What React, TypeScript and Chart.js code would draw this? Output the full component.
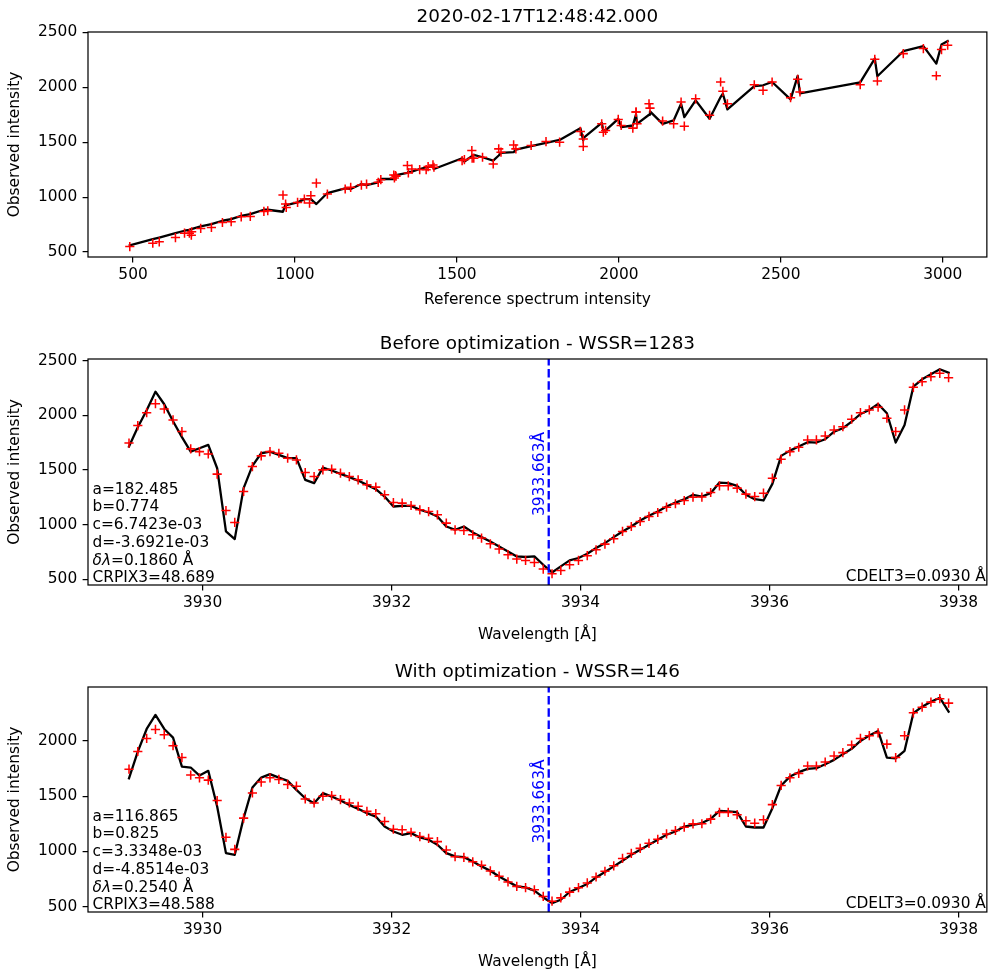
import React, { useEffect, useRef } from "react";
import { Chart, registerables } from "chart.js";

Chart.register(...registerables);

// ---------------- data ----------------
const WAVELENGTH = [
  3929.221, 3929.314, 3929.408, 3929.501, 3929.594, 3929.687, 3929.781, 3929.874, 3929.967, 3930.06,
  3930.154, 3930.247, 3930.34, 3930.434, 3930.527, 3930.62, 3930.713, 3930.807, 3930.9, 3930.993,
  3931.086, 3931.18, 3931.273, 3931.366, 3931.459, 3931.553, 3931.646, 3931.739, 3931.833, 3931.926,
  3932.019, 3932.112, 3932.206, 3932.299, 3932.392, 3932.485, 3932.579, 3932.672, 3932.765, 3932.859,
  3932.952, 3933.045, 3933.138, 3933.232, 3933.325, 3933.418, 3933.511, 3933.605, 3933.698, 3933.791,
  3933.884, 3933.978, 3934.071, 3934.164, 3934.258, 3934.351, 3934.444, 3934.537, 3934.631, 3934.724,
  3934.817, 3934.91, 3935.004, 3935.097, 3935.19, 3935.284, 3935.377, 3935.47, 3935.563, 3935.657,
  3935.75, 3935.843, 3935.936, 3936.03, 3936.123, 3936.216, 3936.309, 3936.403, 3936.496, 3936.589,
  3936.683, 3936.776, 3936.869, 3936.962, 3937.056, 3937.149, 3937.242, 3937.335, 3937.429, 3937.522,
  3937.615, 3937.708, 3937.802, 3937.895,
];

const OBSERVED = [
  1745, 1905, 2023, 2105, 2057, 1957, 1850, 1692, 1667, 1646,
  1461, 1128, 1019, 1302, 1530, 1628, 1667, 1652, 1607, 1591,
  1475, 1439, 1500, 1506, 1470, 1439, 1409, 1363, 1342, 1272,
  1201, 1196, 1174, 1135, 1119, 1089, 1013, 952, 946, 906,
  876, 824, 776, 724, 684, 672, 653, 593, 550, 580,
  632, 672, 715, 769, 821, 870, 937, 982, 1028, 1074,
  1110, 1159, 1190, 1220, 1250, 1251, 1293, 1354, 1354, 1333,
  1278, 1256, 1287, 1424, 1598, 1667, 1707, 1774, 1774, 1810,
  1865, 1895, 1963, 2023, 2048, 2073, 1972, 1850, 2048, 2255,
  2306, 2352, 2383, 2343,
];

const FIT_BEFORE = [
  1713, 1890, 2045, 2215, 2100, 1945, 1799, 1667, 1698, 1728,
  1515, 937, 867, 1333, 1537, 1652, 1667, 1637, 1607, 1607,
  1409, 1379, 1521, 1494, 1464, 1433, 1402, 1363, 1324, 1256,
  1165, 1171, 1171, 1135, 1110, 1074, 982, 952, 982, 928,
  885, 845, 800, 754, 708, 703, 708, 632, 562, 617,
  672, 694, 733, 785, 830, 885, 937, 982, 1037, 1080,
  1119, 1165, 1201, 1230, 1272, 1256, 1287, 1384, 1379, 1354,
  1272, 1232, 1220, 1372, 1628, 1676, 1713, 1753, 1750, 1780,
  1850, 1881, 1941, 2011, 2048, 2103, 2018, 1750, 1911, 2261,
  2328, 2374, 2420, 2389,
];

const FIT_AFTER = [
  1663, 1904, 2109, 2236, 2109, 2031, 1768, 1760, 1687, 1730,
  1407, 985, 970, 1302, 1579, 1669, 1700, 1669, 1639, 1558,
  1482, 1437, 1528, 1497, 1461, 1422, 1386, 1347, 1316, 1226,
  1181, 1151, 1166, 1127, 1106, 1061, 985, 955, 949, 910,
  865, 825, 774, 729, 684, 675, 645, 584, 533, 563,
  633, 669, 705, 765, 814, 865, 916, 970, 1015, 1061,
  1106, 1151, 1181, 1226, 1241, 1257, 1296, 1368, 1362, 1356,
  1226, 1217, 1217, 1392, 1597, 1678, 1718, 1748, 1754, 1790,
  1829, 1881, 1929, 2001, 2049, 2091, 1850, 1844, 1911, 2251,
  2311, 2356, 2392, 2266,
];

const REFERENCE = [
  2280, 2530, 2745, 2980, 2798, 2559, 2335, 2135, 2169, 2202,
  1890, 1066, 963, 1612, 1890, 2043, 2056, 2007, 1959, 1952,
  1675, 1629, 1817, 1775, 1729, 1682, 1636, 1579, 1523, 1429,
  1305, 1310, 1307, 1257, 1221, 1172, 1049, 1008, 1045, 973,
  916, 862, 803, 742, 681, 674, 680, 581, 490, 561,
  631, 659, 709, 776, 834, 904, 971, 1029, 1100, 1155,
  1205, 1265, 1312, 1350, 1405, 1385, 1426, 1552, 1547, 1516,
  1411, 1361, 1347, 1546, 1881, 1947, 1998, 2053, 2053, 2096,
  2192, 2237, 2321, 2418, 2473, 2552, 2445, 2093, 2314, 2790,
  2878, 2940, 3015, 2996,
];

const LINE_CENTER = 3933.663;

const REF_TICKS = [500, 1000, 1500, 2000, 2500, 3000];
const INTENSITY_TICKS = [500, 1000, 1500, 2000, 2500];
const WAVE_TICKS = [3930, 3932, 3934, 3936, 3938];

const TITLE_TOP = "2020-02-17T12:48:42.000";
const TITLE_BEFORE = "Before optimization - WSSR=1283";
const TITLE_AFTER = "With optimization - WSSR=146";
const X_LABEL_TOP = "Reference spectrum intensity";
const X_LABEL_WAVE = "Wavelength [Å]";
const Y_LABEL = "Observed intensity";

const PARAMS_BEFORE = ["a=182.485", "b=0.774", "c=6.7423e-03", "d=-3.6921e-03", "δλ=0.1860 Å", "CRPIX3=48.689"];
const PARAMS_AFTER = ["a=116.865", "b=0.825", "c=3.3348e-03", "d=-4.8514e-03", "δλ=0.2540 Å", "CRPIX3=48.588"];
const CDELT_TEXT = "CDELT3=0.0930 Å";

// ---------------- styling ----------------
const FONT = '"DejaVu Sans", "Liberation Sans", sans-serif';
const TICK_PX = 15.4;
const TITLE_PX = 18.4;
const W = 993;

type Decor = {
  title: string;
  xLabel: string;
  xLabelOffset: number;
  vline?: boolean;
  params?: string[];
  cdelt?: string;
};

function decorPlugin(cfg: Decor) {
  return {
    id: "decor",
    afterDatasetsDraw(chart: any) {
      if (!cfg.vline) return;
      const { ctx, chartArea: a } = chart;
      const x = chart.scales.x.getPixelForValue(LINE_CENTER);
      ctx.save();
      ctx.beginPath();
      ctx.rect(a.left, a.top, a.right - a.left, a.bottom - a.top);
      ctx.clip();
      ctx.beginPath();
      ctx.setLineDash([8.5, 3.7]);
      ctx.strokeStyle = "#0000ff";
      ctx.lineWidth = 2.3;
      ctx.moveTo(x, a.bottom);
      ctx.lineTo(x, a.top);
      ctx.stroke();
      ctx.restore();
    },
    afterDraw(chart: any) {
      const { ctx, chartArea: a } = chart;
      const cx = (a.left + a.right) / 2;
      const cy = (a.top + a.bottom) / 2;
      ctx.save();
      // frame
      ctx.strokeStyle = "#000";
      ctx.lineWidth = 1.23;
      ctx.setLineDash([]);
      ctx.strokeRect(a.left, a.top, a.right - a.left, a.bottom - a.top);
      // title
      ctx.fillStyle = "#000";
      ctx.textBaseline = "alphabetic";
      ctx.textAlign = "center";
      ctx.font = `${TITLE_PX}px ${FONT}`;
      ctx.fillText(cfg.title, cx, a.top - 10.5);
      // x label
      ctx.font = `${TICK_PX}px ${FONT}`;
      ctx.fillText(cfg.xLabel, cx, a.bottom + cfg.xLabelOffset);
      // y label
      ctx.save();
      ctx.translate(18.5, cy);
      ctx.rotate(-Math.PI / 2);
      ctx.fillText(Y_LABEL, 0, 0);
      ctx.restore();

      if (cfg.vline) {
        const x = chart.scales.x.getPixelForValue(LINE_CENTER);
        ctx.save();
        ctx.fillStyle = "#0000ff";
        ctx.translate(x - 4.3, cy + 2);
        ctx.rotate(-Math.PI / 2);
        ctx.textAlign = "center";
        ctx.fillText(`${LINE_CENTER.toFixed(3)}Å`, 0, 0);
        ctx.restore();
      }

      if (cfg.params) {
        const offs = [-91.3, -73.6, -55.9, -38.2, -20.5, -2.8];
        ctx.textAlign = "left";
        cfg.params.forEach((line, i) => {
          const y = a.bottom + offs[i];
          let x = a.left + 4.5;
          if (line.startsWith("δλ")) {
            ctx.font = `italic ${TICK_PX}px ${FONT}`;
            ctx.fillText("δλ", x, y);
            x += ctx.measureText("δλ").width;
            ctx.font = `${TICK_PX}px ${FONT}`;
            ctx.fillText(line.slice(2), x, y);
          } else {
            ctx.font = `${TICK_PX}px ${FONT}`;
            ctx.fillText(line, x, y);
          }
        });
      }
      if (cfg.cdelt) {
        ctx.font = `${TICK_PX}px ${FONT}`;
        ctx.textAlign = "right";
        ctx.fillText(cfg.cdelt, a.right - 1, a.bottom - 3.6);
      }
      ctx.restore();
    },
  };
}

function axis(min: number, max: number, ticks: number[], pad: number, fit: (s: any) => void) {
  return {
    type: "linear",
    min,
    max,
    afterBuildTicks: (s: any) => {
      s.ticks = ticks.filter((v) => v >= min && v <= max).map((v) => ({ value: v }));
    },
    afterFit: fit,
    ticks: {
      callback: (v: any) => String(v),
      color: "#000",
      font: { family: FONT, size: TICK_PX },
      padding: pad,
      maxRotation: 0,
      minRotation: 0,
      autoSkip: false,
    },
    grid: {
      drawOnChartArea: false,
      drawTicks: true,
      tickLength: 5.4,
      color: "#000",
      tickColor: "#000",
      lineWidth: 1.23,
    },
    border: { display: false },
  };
}

function buildConfig(opts: {
  markers: { x: number; y: number }[];
  line: { x: number; y: number }[];
  xMin: number;
  xMax: number;
  xTicks: number[];
  yMin: number;
  yMax: number;
  padTop: number;
  xAxisHeight: number;
  padRight: number;
  decor: Decor;
}): any {
  return {
    type: "scatter",
    data: {
      datasets: [
        {
          data: opts.markers,
          showLine: false,
          pointStyle: "cross",
          pointRadius: 4.6,
          pointHoverRadius: 4.6,
          pointBorderColor: "#ff0000",
          pointBackgroundColor: "#ff0000",
          pointBorderWidth: 1.54,
        },
        {
          data: opts.line,
          showLine: true,
          borderColor: "#000",
          borderWidth: 2.3,
          borderJoinStyle: "round",
          borderCapStyle: "square",
          pointRadius: 0,
          pointHoverRadius: 0,
          fill: false,
          tension: 0,
        },
      ],
    },
    options: {
      responsive: false,
      animation: false,
      events: [],
      layout: { padding: { top: opts.padTop, right: opts.padRight, left: 0, bottom: 0 } },
      plugins: { legend: { display: false }, tooltip: { enabled: false }, title: { display: false } },
      scales: {
        x: axis(opts.xMin, opts.xMax, opts.xTicks, 3.2, (s: any) => {
          s.height = opts.xAxisHeight;
        }),
        y: axis(opts.yMin, opts.yMax, INTENSITY_TICKS, 5.4, (s: any) => {
          s.width = 88;
        }),
      },
    },
    plugins: [decorPlugin(opts.decor)],
  };
}

function Panel({ top, height, config }: { top: number; height: number; config: () => any }) {
  const ref = useRef<HTMLCanvasElement | null>(null);
  useEffect(() => {
    if (!ref.current) return;
    const chart = new Chart(ref.current, config());
    return () => chart.destroy();
  }, []);
  return (
    <canvas
      ref={ref}
      width={W}
      height={height}
      style={{ position: "absolute", left: 0, top, width: W, height }}
    />
  );
}

export default function App() {
  const topConfig = () => {
    const markers = REFERENCE.map((r, i) => ({ x: r, y: OBSERVED[i] }));
    const line = REFERENCE.map((r, i) => ({ x: r, y: FIT_BEFORE[i] })).sort((p, q) => p.x - q.x);
    return buildConfig({
      markers,
      line,
      xMin: 361,
      xMax: 3136,
      xTicks: REF_TICKS,
      yMin: 455,
      yMax: 2503,
      padTop: 32,
      xAxisHeight: 73,
      padRight: 3,
      decor: { title: TITLE_TOP, xLabel: X_LABEL_TOP, xLabelOffset: 47 },
    });
  };
  const beforeConfig = () =>
    buildConfig({
      markers: WAVELENGTH.map((w, i) => ({ x: w, y: OBSERVED[i] })),
      line: WAVELENGTH.map((w, i) => ({ x: w, y: FIT_BEFORE[i] })),
      xMin: 3928.787,
      xMax: 3938.3,
      xTicks: WAVE_TICKS,
      yMin: 447,
      yMax: 2514,
      padTop: 29,
      xAxisHeight: 70,
      padRight: 2,
      decor: {
        title: TITLE_BEFORE,
        xLabel: X_LABEL_WAVE,
        xLabelOffset: 54.4,
        vline: true,
        params: PARAMS_BEFORE,
        cdelt: CDELT_TEXT,
      },
    });
  const afterConfig = () =>
    buildConfig({
      markers: WAVELENGTH.map((w, i) => ({ x: w, y: OBSERVED[i] })),
      line: WAVELENGTH.map((w, i) => ({ x: w, y: FIT_AFTER[i] })),
      xMin: 3928.787,
      xMax: 3938.3,
      xTicks: WAVE_TICKS,
      yMin: 452,
      yMax: 2489,
      padTop: 32,
      xAxisHeight: 63,
      padRight: 2,
      decor: {
        title: TITLE_AFTER,
        xLabel: X_LABEL_WAVE,
        xLabelOffset: 54.4,
        vline: true,
        params: PARAMS_AFTER,
        cdelt: CDELT_TEXT,
      },
    });

  return (
    <div style={{ position: "absolute", left: 0, top: 0, width: W, height: 975, background: "#fff" }}>
      <Panel top={0} height={330} config={topConfig} />
      <Panel top={330} height={325} config={beforeConfig} />
      <Panel top={655} height={320} config={afterConfig} />
    </div>
  );
}
